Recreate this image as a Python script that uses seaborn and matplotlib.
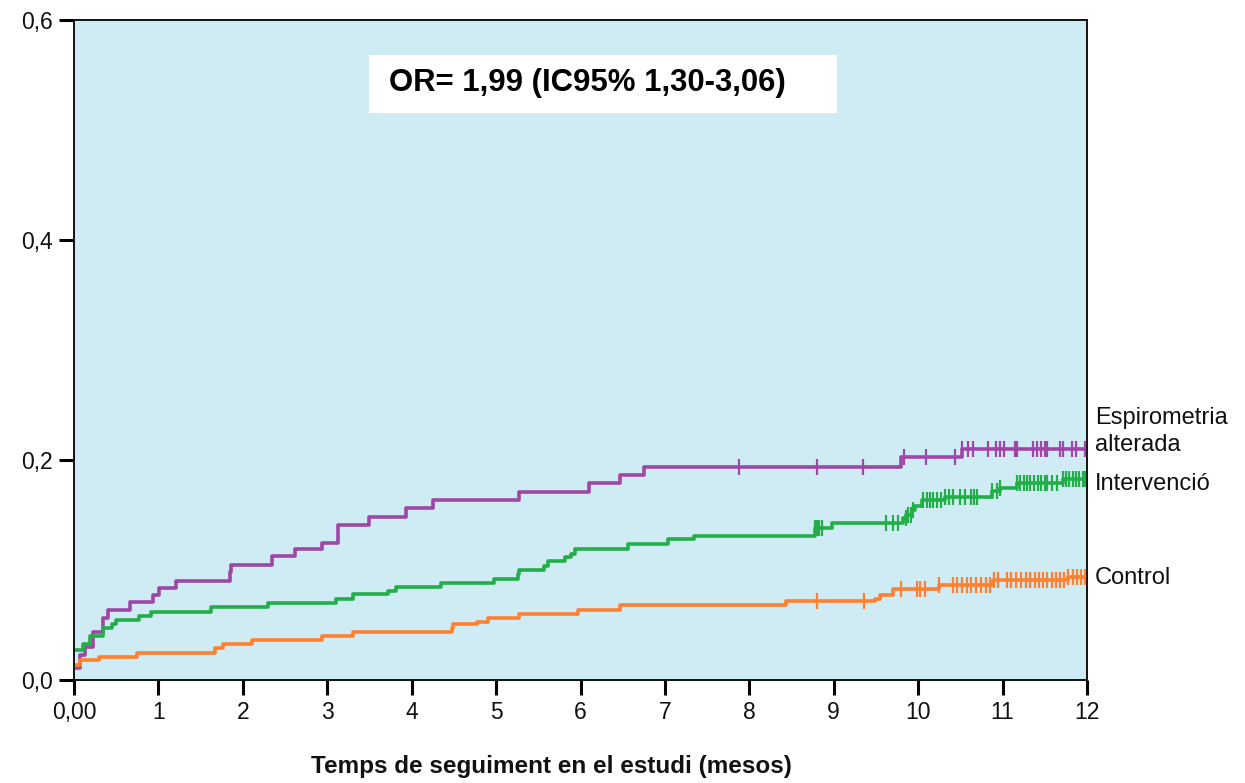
import numpy as np
import pandas as pd
import matplotlib
matplotlib.use("Agg")
import matplotlib.pyplot as plt
from matplotlib.patches import Rectangle
import seaborn as sns

# ---------------- data ----------------
groups = ["Espirometria alterada", "Intervenció", "Control"]

esp_t = [0, 0.07, 0.13, 0.23, 0.34, 0.40, 0.66, 0.94, 1.01, 1.21, 1.85, 1.86, 2.35, 2.62,
         2.94, 3.13, 3.50, 3.93, 4.25, 5.27, 6.10, 6.47, 6.75, 9.80, 10.52, 12.0]
esp_v = [0.011, 0.023, 0.030, 0.044, 0.056, 0.064, 0.071, 0.077, 0.084, 0.090, 0.098, 0.105,
         0.113, 0.119, 0.125, 0.141, 0.148, 0.156, 0.164, 0.171, 0.179, 0.186, 0.194, 0.203,
         0.210, 0.210]
esp_cens = [7.88, 8.80, 9.35, 9.83, 10.09, 10.44, 10.52, 10.59, 10.65, 10.83, 10.92, 10.97,
            11.02, 11.15, 11.17, 11.36, 11.41, 11.46, 11.50, 11.53, 11.68, 11.71, 11.82,
            11.87, 11.98]

int_t = [0, 0.11, 0.19, 0.34, 0.45, 0.50, 0.77, 0.91, 1.62, 2.30, 3.10, 3.31, 3.72, 3.82,
         4.35, 4.98, 5.26, 5.27, 5.57, 5.62, 5.82, 5.89, 5.94, 6.56, 7.04, 7.35, 8.78, 8.98,
         9.82, 9.86, 9.93, 9.96, 10.05, 10.32, 10.88, 10.97, 11.17, 11.71, 12.0]
int_v = [0.027, 0.033, 0.040, 0.047, 0.051, 0.055, 0.058, 0.062, 0.066, 0.070, 0.074, 0.078,
         0.081, 0.085, 0.088, 0.092, 0.096, 0.100, 0.104, 0.108, 0.112, 0.115, 0.119, 0.124,
         0.128, 0.131, 0.138, 0.143, 0.147, 0.150, 0.155, 0.158, 0.164, 0.166, 0.172, 0.175,
         0.179, 0.183, 0.183]
int_cens = [8.78, 8.80, 8.83, 8.86, 9.62, 9.70, 9.76, 9.85, 9.88, 9.91, 9.94, 10.06, 10.10,
            10.14, 10.18, 10.22, 10.27, 10.32, 10.37, 10.41, 10.50, 10.56, 10.62, 10.66,
            10.70, 10.88, 10.93, 10.97, 11.17, 11.21, 11.25, 11.29, 11.33, 11.37, 11.42,
            11.46, 11.50, 11.53, 11.59, 11.65, 11.71, 11.75, 11.79, 11.83, 11.87, 11.91,
            11.95, 11.98]

con_t = [0, 0.07, 0.30, 0.75, 1.67, 1.77, 2.11, 2.94, 3.31, 4.48, 4.49, 4.77, 4.91, 5.27,
         5.97, 6.47, 8.44, 9.49, 9.55, 9.70, 10.25, 10.89, 11.77, 12.0]
con_v = [0.014, 0.018, 0.021, 0.025, 0.029, 0.033, 0.036, 0.040, 0.044, 0.047, 0.051, 0.053,
         0.056, 0.060, 0.064, 0.068, 0.072, 0.074, 0.077, 0.083, 0.086, 0.091, 0.094, 0.094]
con_cens = [8.80, 9.36, 9.80, 9.99, 10.02, 10.08, 10.25, 10.41, 10.46, 10.52, 10.58, 10.63,
            10.68, 10.74, 10.80, 10.85, 10.90, 10.95, 11.05, 11.10, 11.16, 11.22, 11.28,
            11.33, 11.38, 11.43, 11.48, 11.53, 11.58, 11.63, 11.68, 11.73, 11.78, 11.83,
            11.88, 11.93, 11.98]

x_ticks = list(range(0, 13))
x_ticklabels = ["0,00"] + [str(i) for i in range(1, 13)]
y_ticks = [0.0, 0.2, 0.4, 0.6]
y_ticklabels = ["0,0", "0,2", "0,4", "0,6"]
xlabel = "Temps de seguiment en el estudi (mesos)"
annotation = "OR= 1,99 (IC95% 1,30-3,06)"
end_labels = ["Espirometria\nalterada", "Intervenció", "Control"]

colors = {"Espirometria alterada": "#9E47A6",
          "Intervenció": "#22AE48",
          "Control": "#FF8030"}

# ---------------- build tables ----------------
steps = {"Espirometria alterada": (esp_t, esp_v, esp_cens),
         "Intervenció": (int_t, int_v, int_cens),
         "Control": (con_t, con_v, con_cens)}

line_rows = []
cens_rows = []
for g in groups:
    t, v, c = steps[g]
    for ti, vi in zip(t, v):
        line_rows.append({"t": ti, "v": vi, "grup": g})
    t_arr = np.asarray(t)
    v_arr = np.asarray(v)
    for ci in c:
        idx = np.searchsorted(t_arr, ci, side="right") - 1
        cens_rows.append({"t": ci, "v": v_arr[idx], "grup": g})
lines_df = pd.DataFrame(line_rows)
cens_df = pd.DataFrame(cens_rows)

# ---------------- plot ----------------
sns.set_theme(style="ticks")
plt.rcParams["font.family"] = ["Liberation Sans", "DejaVu Sans"]

fig = plt.figure(figsize=(12.45, 7.83), dpi=100)
ax = fig.add_axes([74 / 1245, 1 - 680 / 783, (1087 - 74) / 1245, (680 - 20) / 783])
ax.set_facecolor("#CFEBF3")

sns.lineplot(data=lines_df, x="t", y="v", hue="grup", palette=colors,
             drawstyle="steps-post", estimator=None, sort=False,
             linewidth=2.6, legend=False, ax=ax)
for g in groups:
    sub = cens_df[cens_df["grup"] == g]
    ax.plot(sub["t"], sub["v"], linestyle="none", marker="|", markersize=11,
            markeredgewidth=1.6, color=colors[g], zorder=3)

ax.set_xlim(0, 12)
ax.set_ylim(0, 0.6)
ax.set_xticks(x_ticks)
ax.set_xticklabels(x_ticklabels)
ax.set_yticks(y_ticks)
ax.set_yticklabels(y_ticklabels)
ax.tick_params(axis="both", direction="out", length=11, width=2.2, color="black",
               labelsize=16.5, labelcolor="#111111", pad=4)

for side in ["left", "bottom", "top", "right"]:
    ax.spines[side].set_visible(True)
    ax.spines[side].set_color("#111111")
    ax.spines[side].set_linewidth(1.4)

ax.set_ylabel("")
ax.set_xlabel(xlabel, fontsize=17.5, fontweight="bold", color="#111111")
ax.xaxis.set_label_coords((551.5 - 74) / 1013, (680 - 766) / 660)
ax.xaxis.label.set_va("center")

# annotation box (white rectangle + text)
ax.add_patch(Rectangle((3.495, 0.5155), 9.04 - 3.495, 0.568 - 0.5155,
                       facecolor="white", edgecolor="none", zorder=4))
ax.text(3.73, 0.5425, annotation, fontsize=22.4, fontweight="bold",
        color="black", va="center", ha="left", zorder=5)

# end labels
end_y = [0.2255, 0.178, 0.0927]
for lab, yy in zip(end_labels, end_y):
    ax.text(1.008, yy, lab, transform=ax.get_yaxis_transform(), fontsize=17,
            color="#111111", va="center", ha="left", linespacing=1.3, clip_on=False)

fig.savefig("out.png", dpi=100)
